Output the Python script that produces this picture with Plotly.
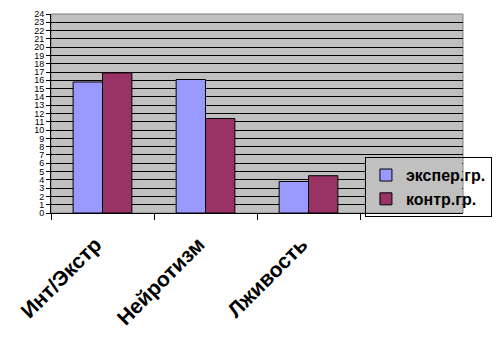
import plotly.graph_objects as go

categories = ["Инт/Экстр", "Нейротизм", "Лживость"]
exper = [15.8, 16.1, 3.8]
kontr = [16.9, 11.4, 4.5]
series_names = ["экспер.гр.", "контр.гр."]
y_ticks = list(range(0, 25))

LEG_X = 0.762
LEG_Y = 0.13

fig = go.Figure()
fig.add_trace(go.Bar(x=categories, y=exper, name=series_names[0],
                     marker=dict(color="#9999FF", line=dict(color="black", width=1))))
fig.add_trace(go.Bar(x=categories, y=kontr, name=series_names[1],
                     marker=dict(color="#993366", line=dict(color="black", width=1))))

fig.update_layout(
    width=492, height=349,
    margin=dict(l=43, r=37, t=6, b=144, pad=0, autoexpand=False),
    paper_bgcolor="white",
    plot_bgcolor="#C0C0C0",
    barmode="group",
    bargap=0.43,
    bargroupgap=0,
    font=dict(family="Liberation Sans, Arial, sans-serif", color="black"),
    legend=dict(
        x=LEG_X, y=LEG_Y, xanchor="left", yanchor="middle",
        bgcolor="rgba(0,0,0,0)", bordercolor="black", borderwidth=1,
        font=dict(size=16, family="Liberation Sans, Arial, sans-serif", weight="bold"),
        itemwidth=30,
        tracegroupgap=0,
    ),
    xaxis=dict(
        type="category",
        range=[-0.5, 3.5],
        tickson="boundaries",
        ticks="outside", ticklen=6, tickcolor="black",
        showline=True, linecolor="black", linewidth=1,
        tickangle=-45,
        tickfont=dict(size=21, weight="bold"),
        ticklabelstandoff=10,
        ticklabelshift=-7,
        showgrid=False,
        automargin=False,
    ),
    yaxis=dict(
        range=[0, 24],
        tickvals=y_ticks,
        ticktext=[str(v) for v in y_ticks],
        ticks="outside", ticklen=4, tickcolor="black",
        showline=True, linecolor="black", linewidth=1,
        showgrid=True, gridcolor="black", gridwidth=1,
        tickfont=dict(size=9),
        zeroline=False,
        automargin=False,
    ),
)
fig.add_shape(type="rect", xref="paper", yref="paper", x0=0, x1=1, y0=0, y1=1,
              line=dict(color="#808080", width=1), layer="below")
# plot-area patch behind the legend (gridlines hidden there, as in the reference)
fig.add_shape(type="rect", xref="paper", yref="paper", x0=LEG_X, x1=0.998,
              y0=0.004, y1=0.27, fillcolor="#C0C0C0", line=dict(width=0), layer="above")

fig.write_html("out.html")
